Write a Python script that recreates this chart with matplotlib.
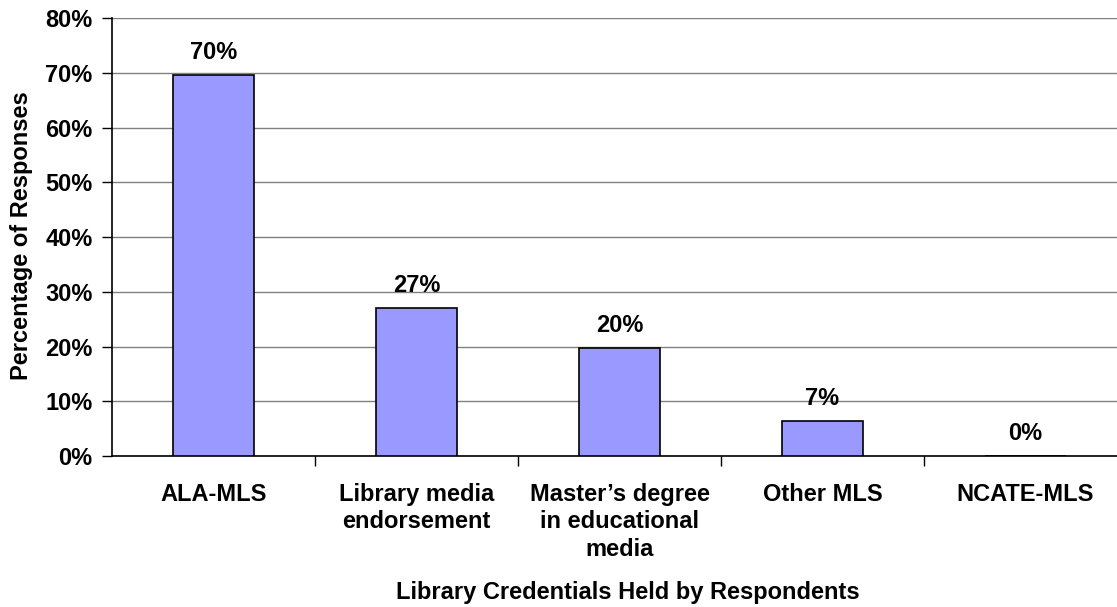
import matplotlib
matplotlib.use('Agg')
import matplotlib.pyplot as plt
from matplotlib.ticker import MultipleLocator, FuncFormatter

categories = ['ALA-MLS', 'Library media\nendorsement', 'Master\u2019s degree\nin educational\nmedia',
              'Other MLS', 'NCATE-MLS']
values = [69.6, 27.0, 19.7, 6.5, 0.0]
labels = ['70%', '27%', '20%', '7%', '0%']

plt.rcParams['font.family'] = ['Liberation Sans', 'DejaVu Sans']
plt.rcParams['font.weight'] = 'bold'
FS = 17

W, H = 1117, 607
fig = plt.figure(figsize=(W / 100, H / 100), dpi=100)
# right edge of the plot runs past the picture, as in the original
ax = fig.add_axes([112 / W, (H - 456.2) / H, 1015 / W, 438 / H])

x = list(range(len(categories)))
ax.bar(x, values, width=0.4, color='#9999FF', edgecolor='black', linewidth=1.2, zorder=3)
for xi, v, lab in zip(x, values, labels):
    ax.text(xi, v + 2.0, lab, ha='center', va='bottom', fontsize=FS, fontweight='bold', zorder=4)

ax.set_xlim(-0.5, len(categories) - 0.5)
ax.set_ylim(0, 80)
ax.yaxis.set_major_locator(MultipleLocator(10))
ax.yaxis.set_major_formatter(FuncFormatter(lambda v, p: f'{int(v)}%'))
ax.grid(axis='y', color='#808080', linewidth=1, zorder=0)

ax.set_xticks(x)
ax.set_xticklabels(categories, fontsize=FS, fontweight='bold', linespacing=1.27)
ax.set_xticks([i + 0.5 for i in x[:-1]], minor=True)
ax.tick_params(axis='x', which='major', length=0, pad=19)
ax.tick_params(axis='x', which='minor', length=7, width=1, direction='out')
ax.tick_params(axis='y', length=7, width=1, direction='out', labelsize=FS, pad=7)
for t in ax.get_yticklabels():
    t.set_fontweight('bold')

for s in ['top', 'right']:
    ax.spines[s].set_visible(False)
ax.spines['left'].set_linewidth(1.2)
ax.spines['bottom'].set_linewidth(1.2)

fig.text(22 / W, 1 - 236 / H, 'Percentage of Responses', rotation=90,
         ha='center', va='center', fontsize=FS, fontweight='bold')
fig.text(628 / W, 1 - 593 / H, 'Library Credentials Held by Respondents',
         ha='center', va='center', fontsize=FS, fontweight='bold')

fig.savefig('out.png', dpi=100)
